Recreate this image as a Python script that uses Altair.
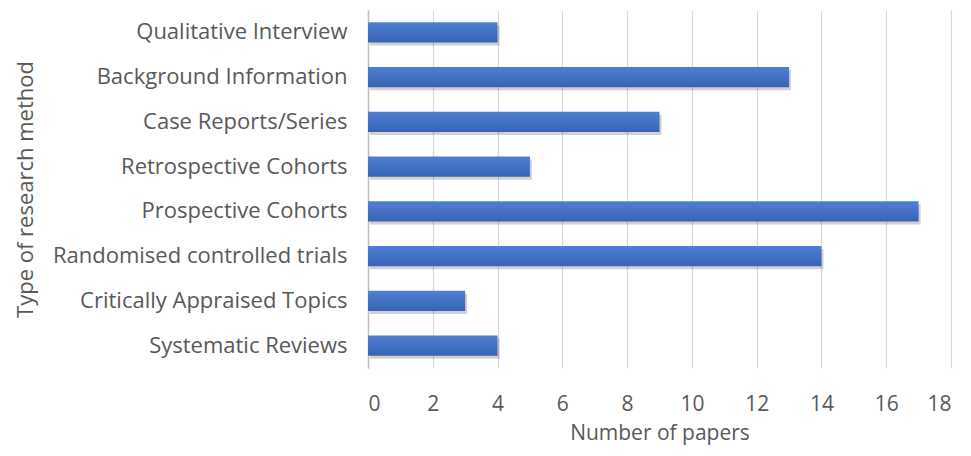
import altair as alt
import pandas as pd

categories = [
    "Qualitative Interview",
    "Background Information",
    "Case Reports/Series",
    "Retrospective Cohorts",
    "Prospective Cohorts",
    "Randomised controlled trials",
    "Critically Appraised Topics",
    "Systematic Reviews",
]
values = [4, 13, 9, 5, 17, 14, 3, 4]

df = pd.DataFrame({"method": categories, "papers": values})

FONT = "Open Sans"
GREY = "#595959"

y_enc = alt.Y(
    "method:N",
    sort=categories,
    title="Type of research method",
    scale=alt.Scale(paddingInner=0.55, paddingOuter=0.275),
    axis=alt.Axis(
        labelFont=FONT, labelFontSize=22, labelColor=GREY, labelPadding=21,
        ticks=False, domain=True, domainColor="#bfbfbf", domainWidth=1.5,
        titleFont=FONT, titleFontSize=22, titleColor=GREY, titleFontWeight="normal",
        titleX=-343, titleY=179, titleAngle=-90, titleBaseline="middle", titleAlign="center",
        grid=False, labelLimit=400,
    ),
)
x_enc = alt.X(
    "papers:Q",
    title="Number of papers",
    scale=alt.Scale(domain=[0, 18], nice=False),
    axis=alt.Axis(
        values=list(range(0, 19, 2)), labelFont=FONT, labelFontSize=21, labelColor=GREY,
        labelPadding=25, ticks=False, domain=False, grid=True, gridColor="#d9d9d9",
        gridWidth=1.2, titleFont=FONT, titleFontSize=21, titleColor=GREY,
        titleFontWeight="normal", titleY=65, titleBaseline="middle",
    ),
)

shadow = alt.Chart(df).mark_bar(color="#000000", opacity=0.18, yOffset=3, xOffset=2).encode(
    x=x_enc, y=y_enc
)
bars = alt.Chart(df).mark_bar(
    color=alt.Gradient(
        gradient="linear", x1=0, x2=0, y1=0, y2=1,
        stops=[alt.GradientStop(color="#4d7fd4", offset=0),
               alt.GradientStop(color="#4472c4", offset=0.5),
               alt.GradientStop(color="#3962b3", offset=1)],
    )
).encode(x=x_enc, y=y_enc)

chart = (
    alt.layer(shadow, bars)
    .properties(
        width=583, height=358,
        autosize=alt.AutoSizeParams(type="none"),
        padding={"left": 360, "top": 2, "right": 12, "bottom": 80},
        background="white",
    )
    .configure_view(stroke=None)
)

chart.save("out.html", embed_options={"renderer": "svg", "actions": False})
